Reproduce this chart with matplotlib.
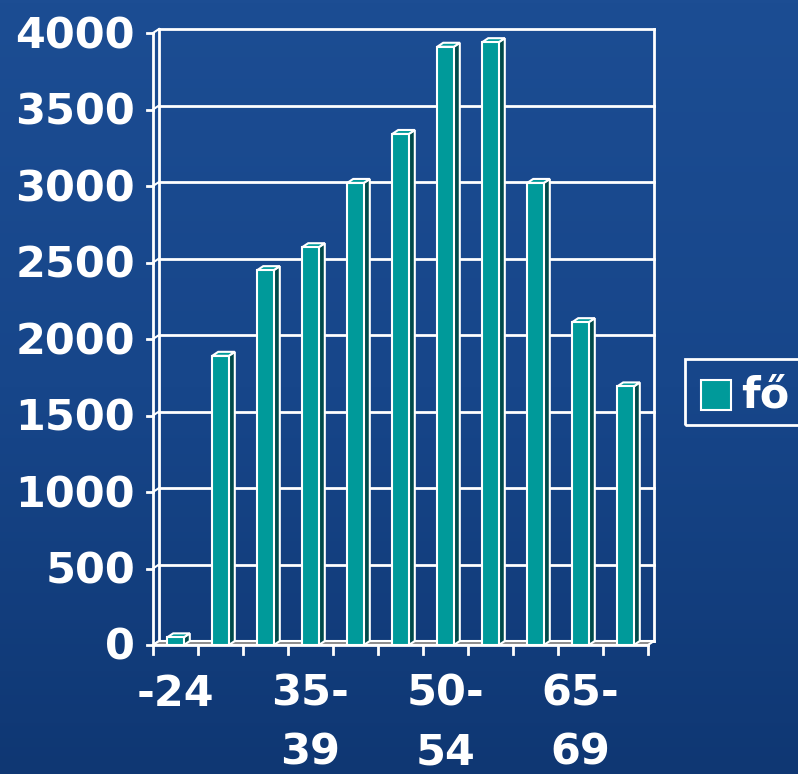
import numpy as np
import matplotlib
matplotlib.use("Agg")
import matplotlib.pyplot as plt
from matplotlib.patches import Polygon, Rectangle

# adatok
korcsoportok = ["-24", "25-29", "30-34", "35-39", "40-44", "45-49",
                "50-54", "55-59", "60-64", "65-69", "70-"]
fo = [50, 1890, 2450, 2600, 3020, 3340, 3910, 3940, 3020, 2110, 1690]
y_ticks = [0, 500, 1000, 1500, 2000, 2500, 3000, 3500, 4000]
x_labels = {0: "-24", 3: "35-\n39", 6: "50-\n54", 9: "65-\n69"}

W, H = 798, 774
fig = plt.figure(figsize=(W / 100, H / 100), dpi=100)

# hatter (kek, enyhe atmenet)
bg = fig.add_axes([0, 0, 1, 1])
grad = np.linspace(0, 1, 256).reshape(-1, 1)
cmap = matplotlib.colors.LinearSegmentedColormap.from_list(
    "bg", ["#1c4d93", "#17468a", "#0f3773"])
bg.imshow(grad, aspect="auto", cmap=cmap, extent=[0, 1, 0, 1])
bg.set_axis_off()

# elso sik: x 153..648, y 33..645 (pixel)
x0, x1, ytop, ybot = 153, 648, 33, 645
ax = fig.add_axes([x0 / W, (H - ybot) / H, (x1 - x0) / W, (ybot - ytop) / H])
ax.set_xlim(0, len(fo))
ax.set_ylim(0, 4000)
ax.set_axis_off()

# pixel -> adat egyseg
px = len(fo) / (x1 - x0)
py = 4000 / (ybot - ytop)
dx, dy = 6 * px, 4 * py  # melyseg

n = len(fo)
teal = "#009a9a"
dark = "#004a4a"
white = "white"

# hatso fal racsvonalai
for t in y_ticks:
    ax.plot([dx, n + dx], [t + dy, t + dy], color=white, lw=2, clip_on=False)
ax.plot([n + dx, n + dx], [dy, 4000 + dy], color=white, lw=2, clip_on=False)
# bal fal
ax.plot([dx, dx], [dy, 4000 + dy], color=white, lw=2, clip_on=False)
for t in y_ticks:
    ax.plot([0, dx], [t, t + dy], color=white, lw=1.5, clip_on=False)

# padlo
ax.add_patch(Polygon([[0, 0], [n, 0], [n + dx, dy], [dx, dy]],
                     closed=True, facecolor="#8a8a8a", edgecolor=white,
                     lw=1.5, clip_on=False, zorder=2))

# oszlopok
bw = 16.6 * px
for i, v in enumerate(fo):
    left = i + 0.5 - bw / 2
    right = left + bw
    ax.add_patch(Polygon([[right, 0], [right + dx, dy], [right + dx, v + dy], [right, v]],
                         closed=True, facecolor=dark, edgecolor=white, lw=1.5,
                         clip_on=False, zorder=3))
    ax.add_patch(Polygon([[left, v], [right, v], [right + dx, v + dy], [left + dx, v + dy]],
                         closed=True, facecolor=teal, edgecolor=white, lw=1.5,
                         clip_on=False, zorder=3))
    ax.add_patch(Rectangle((left, 0), bw, v, facecolor=teal, edgecolor=white,
                           lw=1.5, clip_on=False, zorder=4))

# tengelyek
ax.plot([0, 0], [0, 4000], color=white, lw=2, clip_on=False, zorder=5)
ax.plot([0, n], [0, 0], color=white, lw=2, clip_on=False, zorder=5)
for t in y_ticks:
    ax.plot([-6 * px, 0], [t, t], color=white, lw=2, clip_on=False, zorder=5)
    ax.text(-18 * px, t - 3 * py, str(t), ha="right", va="center", color=white,
            fontsize=31, fontweight="bold", family="DejaVu Sans")
for i in range(n + 1):
    ax.plot([i, i], [0, -9 * py], color=white, lw=2, clip_on=False, zorder=5)
for i, lab in x_labels.items():
    ax.text(i + 0.5, -28 * py, lab, ha="center", va="top", color=white,
            fontsize=31, fontweight="bold", family="DejaVu Sans",
            linespacing=1.5)

# jelmagyarazat
fig.patches.append(Rectangle((685 / W, (H - 425) / H), 120 / W, 66 / H,
                             transform=fig.transFigure, facecolor="none",
                             edgecolor=white, lw=2))
fig.patches.append(Rectangle((701 / W, (H - 410) / H), 30 / W, 30 / H,
                             transform=fig.transFigure, facecolor=teal,
                             edgecolor=white, lw=1.5))
fig.text(741 / W, (H - 395) / H, "fő", ha="left", va="center", color=white,
         fontsize=31, fontweight="bold", family="DejaVu Sans")

fig.savefig("out.png", dpi=100)
